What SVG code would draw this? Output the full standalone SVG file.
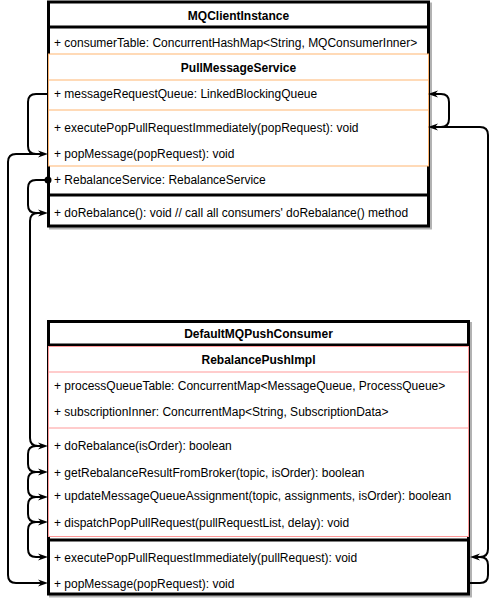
<svg xmlns="http://www.w3.org/2000/svg" width="497" height="599" viewBox="0 0 497 599">
<defs>
<marker id="arr" markerUnits="userSpaceOnUse" markerWidth="10" markerHeight="8" viewBox="0 0 10 8" refX="3" refY="4" orient="auto">
<path d="M0,0.5 L10,4 L0,7.5 L3,4 Z" fill="#000"/>
</marker>
<style>
.t{font-family:"Liberation Sans",Arial,sans-serif;font-size:12px;fill:#000}
.b{font-weight:bold;text-anchor:middle}
.outer{fill:#fff;stroke:#000;stroke-width:3}
.shadow{fill:none;stroke:#000;stroke-opacity:0.3;stroke-width:3}
.org{fill:#fff;stroke:#FFB570;stroke-width:1}
.orgl{stroke:#FFB570;stroke-width:1}
.pnk{fill:#fff;stroke:#FF9999;stroke-width:1}
.pnkl{stroke:#FF9999;stroke-width:1}
.div{stroke:#000;stroke-width:3}
.c{fill:none;stroke:#000;stroke-width:2;marker-end:url(#arr)}
.cn{fill:none;stroke:#000;stroke-width:2}
</style>
</defs>

<g id="MQClientInstance">
<rect class="shadow" x="50.5" y="4" width="380" height="224"/>
<rect class="outer" x="48.5" y="2" width="380" height="224"/>
<line class="div" x1="48.5" y1="27" x2="428.5" y2="27"/>
<text class="t b" x="238.5" y="20">MQClientInstance</text>
<text class="t" x="54" y="46.5">+ consumerTable: ConcurrentHashMap&lt;String, MQConsumerInner&gt;</text>
<g id="PullMessageService">
<rect class="org" x="48.5" y="54" width="380" height="112"/>
<line class="orgl" x1="48.5" y1="80" x2="428.5" y2="80"/>
<line class="orgl" x1="48.5" y1="110" x2="428.5" y2="110"/>
<text class="t b" x="238.5" y="72">PullMessageService</text>
<text class="t" x="54" y="98">+ messageRequestQueue: LinkedBlockingQueue</text>
<text class="t" x="54" y="132">+ executePopPullRequestImmediately(popRequest): void</text>
<text class="t" x="54" y="158">+ popMessage(popRequest): void</text>
</g>
<text class="t" x="54" y="184">+ RebalanceService: RebalanceService</text>
<line class="div" x1="48.5" y1="195" x2="428.5" y2="195"/>
<text class="t" x="54" y="217">+ doRebalance(): void // call all consumers' doRebalance() method</text>
</g>

<g id="DefaultMQPushConsumer">
<rect class="shadow" x="50.5" y="323.5" width="420" height="272.5"/>
<rect class="outer" x="48.5" y="321.5" width="420" height="272.5"/>
<line class="div" x1="48.5" y1="345" x2="468.5" y2="345"/>
<text class="t b" x="258.5" y="337.5">DefaultMQPushConsumer</text>
<g id="RebalancePushImpl">
<rect class="pnk" x="48.5" y="346.5" width="420" height="190"/>
<line class="pnkl" x1="48.5" y1="372" x2="468.5" y2="372"/>
<line class="pnkl" x1="48.5" y1="428" x2="468.5" y2="428"/>
<text class="t b" x="258.5" y="364">RebalancePushImpl</text>
<text class="t" x="54" y="390">+ processQueueTable: ConcurrentMap&lt;MessageQueue, ProcessQueue&gt;</text>
<text class="t" x="54" y="416">+ subscriptionInner: ConcurrentMap&lt;String, SubscriptionData&gt;</text>
<text class="t" x="54" y="450">+ doRebalance(isOrder): boolean</text>
<text class="t" x="54" y="477">+ getRebalanceResultFromBroker(topic, isOrder): boolean</text>
<text class="t" x="54" y="500">+ updateMessageQueueAssignment(topic, assignments, isOrder): boolean</text>
<text class="t" x="54" y="526.5">+ dispatchPopPullRequest(pullRequestList, delay): void</text>
</g>
<line class="div" x1="48.5" y1="540" x2="468.5" y2="540"/>
<text class="t" x="54" y="562">+ executePopPullRequestImmediately(pullRequest): void</text>
<text class="t" x="54" y="587.5">+ popMessage(popRequest): void</text>
</g>

<g id="connectors">
<path class="c" d="M48,94 H36 Q28,94 28,102 V146 Q28,154 36,154 H41"/>
<path class="c" d="M41,154 H16 Q8,154 8,162 V575 Q8,583 16,583 H41"/>
<circle cx="48" cy="180" r="3.5" fill="#000"/>
<path class="c" d="M48,180 H36 Q28,180 28,188 V205 Q28,213 36,213 H41"/>
<path class="c" d="M41,213 H38 Q30,213 30,221 V438 Q30,446 38,446 H41"/>
<path class="c" d="M41,446 H36 Q28,446 28,454 V464 Q28,472 36,472 H41"/>
<path class="c" d="M41,472 H36 Q28,472 28,480 V489 Q28,497 36,497 H41"/>
<path class="c" d="M41,497 H36 Q28,497 28,505 V514 Q28,522 36,522 H41"/>
<path class="c" d="M41,522 H36 Q28,522 28,530 V549 Q28,557 36,557 H41"/>
<path class="c" d="M435,127 H441 Q449,127 449,119 V102 Q449,94 441,94 H435"/>
<path class="c" d="M477,557 H480 Q488,557 488,549 V135 Q488,127 480,127 H435"/>
<path class="c" d="M470,583 H480 Q488,583 488,575 V565 Q488,557 480,557 H477"/>
</g>
</svg>
